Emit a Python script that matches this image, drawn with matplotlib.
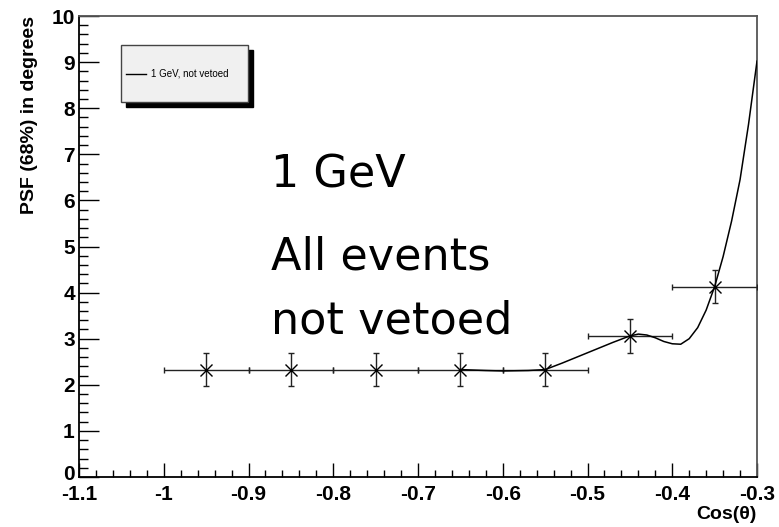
#!/usr/bin/env python

import matplotlib
matplotlib.use("Agg")
import matplotlib.pyplot as plt
import matplotlib.transforms as mtransforms
from matplotlib.ticker import MultipleLocator
from matplotlib.patches import Rectangle

# measured points (cos theta bins)
cos_theta = [-0.95, -0.85, -0.75, -0.65, -0.55, -0.45, -0.35]
psf68 = [2.33, 2.33, 2.33, 2.33, 2.33, 3.06, 4.13]
x_err = [0.05, 0.05, 0.05, 0.05, 0.05, 0.05, 0.05]
y_err = [0.36, 0.36, 0.36, 0.36, 0.36, 0.36, 0.36]

# smooth curve
curve_x = [-0.65, -0.62, -0.60, -0.57, -0.55, -0.53, -0.51, -0.49, -0.47, -0.45,
           -0.44, -0.43, -0.42, -0.41, -0.40, -0.39, -0.38, -0.37, -0.36, -0.35,
           -0.34, -0.33, -0.32, -0.31, -0.30]
curve_y = [2.33, 2.31, 2.30, 2.31, 2.33, 2.47, 2.62, 2.77, 2.92, 3.06,
           3.10, 3.08, 3.02, 2.94, 2.89, 2.88, 3.00, 3.24, 3.62, 4.13,
           4.78, 5.55, 6.45, 7.65, 9.02]

x_ticks = [-1.1, -1.0, -0.9, -0.8, -0.7, -0.6, -0.5, -0.4, -0.3]
x_ticklabels = ['-1.1', '-1', '-0.9', '-0.8', '-0.7', '-0.6', '-0.5', '-0.4', '-0.3']

plt.rcParams['font.family'] = ['Liberation Sans', 'DejaVu Sans']
plt.rcParams['font.weight'] = 'bold'
plt.rcParams['axes.labelweight'] = 'bold'

fig = plt.figure(figsize=(7.79, 5.27), dpi=100)
ax = fig.add_axes([79/779, 50/527, 678/779, 461/527])

ax.errorbar(cos_theta, psf68, xerr=x_err, yerr=y_err, fmt='x', color='black',
            ecolor='#222222', elinewidth=1.0, capsize=2.5, capthick=1.0,
            markersize=8, markeredgewidth=1.0, zorder=3)
ax.plot(curve_x, curve_y, color='black', linewidth=1.1, zorder=4)

ax.set_xlim(-1.1, -0.3)
ax.set_ylim(0, 10)

ax.xaxis.set_minor_locator(MultipleLocator(0.02))
ax.yaxis.set_minor_locator(MultipleLocator(0.2))
ax.set_xticks(x_ticks)
ax.set_xticklabels(x_ticklabels, fontweight='bold', fontsize=15)
ax.set_yticks(range(0, 11))
ax.set_yticklabels([str(v) for v in range(0, 11)], fontweight='bold', fontsize=15)

ax.tick_params(axis='x', which='major', direction='in', length=10, width=1.0,
               top=False, pad=6)
ax.tick_params(axis='x', which='minor', direction='in', length=5, width=1.0, top=False)
ax.tick_params(axis='y', which='major', direction='in', length=14.5, width=1.0,
               right=False, pad=3)
ax.tick_params(axis='y', which='minor', direction='in', length=6.5, width=1.0, right=False)

# nudge the "0" up a little so it does not sit on "-1.1"
zero_lab = ax.get_yticklabels()[0]
zero_lab.set_transform(zero_lab.get_transform() +
                       mtransforms.ScaledTranslation(0, 3/72, fig.dpi_scale_trans))

for side in ['left', 'bottom']:
    ax.spines[side].set_linewidth(1.3)
    ax.spines[side].set_color('black')
for side in ['top', 'right']:
    ax.spines[side].set_linewidth(1.3)
    ax.spines[side].set_color('#555555')

ax.set_ylabel('PSF (68%) in degrees', fontsize=14, fontweight='bold', loc='top', labelpad=10)
ax.set_xlabel('Cos(θ)', fontsize=14, fontweight='bold', loc='right', labelpad=1)

# legend box with shadow, ROOT style
ax.add_patch(Rectangle((126/779, 420/527), 127/779, 57/527, transform=fig.transFigure,
                       facecolor='black', edgecolor='black', zorder=5, clip_on=False))
ax.add_patch(Rectangle((121/779, 425/527), 127/779, 57/527, transform=fig.transFigure,
                       facecolor='#f0f0f0', edgecolor='#444444', linewidth=1.0,
                       zorder=6, clip_on=False))
fig.lines.append(plt.Line2D([126/779, 146/779], [453.5/527, 453.5/527],
                            transform=fig.transFigure, color='black', linewidth=1.0, zorder=7))
fig.text(151/779, 453.5/527, '1 GeV, not vetoed', fontsize=7, fontweight='normal',
         va='center', ha='left', zorder=7)

# annotation text
fig.text(271/779, (527-188)/527, '1 GeV', fontsize=32, family='DejaVu Sans',
         fontweight='normal', va='baseline')
fig.text(271/779, (527-270)/527, 'All events', fontsize=32, family='DejaVu Sans',
         fontweight='normal', va='baseline')
fig.text(271/779, (527-333)/527, 'not vetoed', fontsize=32, family='DejaVu Sans',
         fontweight='normal', va='baseline')

plt.savefig('out.png', dpi=100)
